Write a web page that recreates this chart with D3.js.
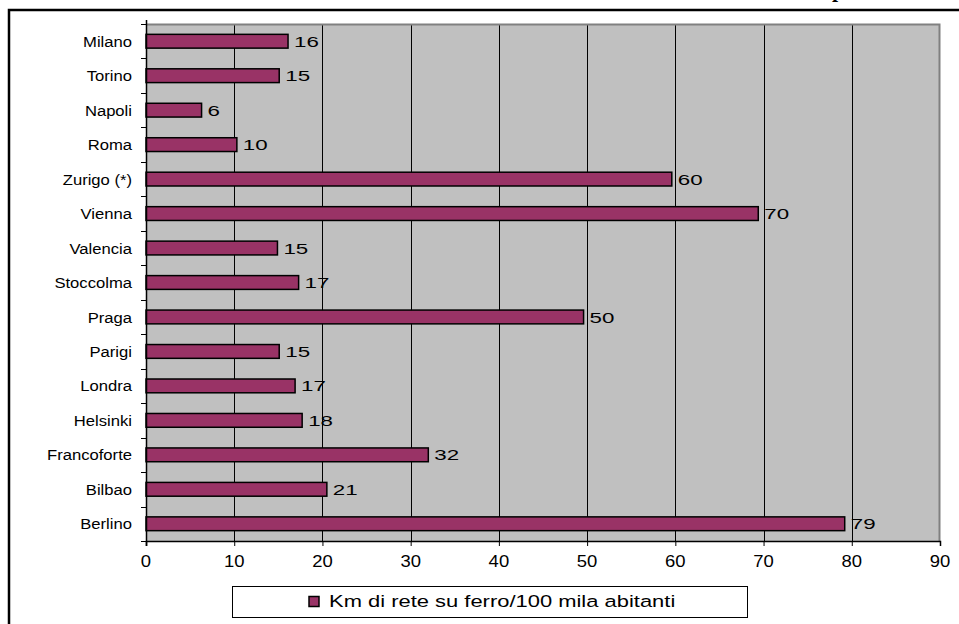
<!DOCTYPE html>
<html><head><meta charset="utf-8">
<script src="https://cdn.jsdelivr.net/npm/d3@7"></script>
<style>body{margin:0;background:#fff}svg{display:block}</style>
</head><body>
<script>
const cities = ["Milano","Torino","Napoli","Roma","Zurigo (*)","Vienna","Valencia","Stoccolma","Praga","Parigi","Londra","Helsinki","Francoforte","Bilbao","Berlino"];
const values = [16.1,15.1,6.3,10.3,59.6,69.4,14.9,17.3,49.6,15.1,16.9,17.7,32.0,20.5,79.2];
const valueLabels = ["16","15","6","10","60","70","15","17","50","15","17","18","32","21","79"];
const xTicks = [0,10,20,30,40,50,60,70,80,90];
const legendLabel = "Km di rete su ferro/100 mila abitanti";

const W=959,H=624;
const svg=d3.select("body").append("svg").attr("width",W).attr("height",H);
const font="'Liberation Sans', Arial, sans-serif";

// outer frame
svg.append("path").attr("d","M9,700 V10 H980").attr("fill","none").attr("stroke","#000").attr("stroke-width",2.5);
// cut-off heading glyph (only its descender shows above the frame)
svg.append("text").attr("x",832).attr("y",-3).attr("font-family","'Liberation Serif', serif").attr("font-weight","bold").attr("font-size",22).text("p");

const L=146,R=940,T=24,B=541;
const x=d3.scaleLinear().domain([0,90]).range([L,R]);
const y=d3.scaleBand().domain(cities).range([T,B]).paddingInner(0.6).paddingOuter(0.3);
const yb=d3.scaleBand().domain(cities).range([T,B]);

// horizontally stretched text helper
function stext(sel, px, py, sx, size, anchor){
  sel.attr("transform",(d,i)=>`translate(${px(d,i)},${py(d,i)}) scale(${sx},1)`)
     .attr("x",0).attr("y",0).attr("dy","0.36em")
     .attr("font-family",font).attr("font-size",size).attr("fill","#000")
     .attr("text-anchor",anchor||"start");
  return sel;
}

svg.append("rect").attr("x",L).attr("y",T).attr("width",R-L).attr("height",B-T).attr("fill","#c0c0c0");
// gridlines
svg.append("g").selectAll("line").data(xTicks.filter(d=>d>0&&d<90)).join("line")
  .attr("x1",d=>Math.round(x(d))+0.5).attr("x2",d=>Math.round(x(d))+0.5).attr("y1",T).attr("y2",B)
  .attr("stroke","#000").attr("stroke-width",1);
// plot border top/right gray
svg.append("path").attr("d",`M${L},${T+0.5} H${R-0.5} V${B}`).attr("fill","none").attr("stroke","#808080").attr("stroke-width",2);

// bars
svg.append("g").selectAll("rect").data(cities).join("rect")
  .attr("x",x(0)).attr("y",d=>y(d)).attr("width",(d,i)=>x(values[i])-x(0)).attr("height",y.bandwidth())
  .attr("fill","#993366").attr("stroke","#000").attr("stroke-width",1.5);
// value labels
stext(svg.append("g").selectAll("text").data(cities).join("text"),
  (d,i)=>x(values[i])+6, d=>y(d)+y.bandwidth()/2, 1.45, 15.4, "start")
  .text((d,i)=>valueLabels[i]);

// y axis
const yAxisG=svg.append("g");
yAxisG.append("line").attr("x1",L+0.5).attr("x2",L+0.5).attr("y1",T-4).attr("y2",B+5).attr("stroke","#000").attr("stroke-width",1.5);
const bounds=cities.map(c=>yb(c)).concat([B]);
yAxisG.selectAll("line.t").data(bounds).join("line").attr("class","t")
  .attr("x1",L-5).attr("x2",L).attr("y1",d=>Math.round(d)+0.5).attr("y2",d=>Math.round(d)+0.5).attr("stroke","#000");
stext(yAxisG.selectAll("text").data(cities).join("text"),
  d=>L-14, d=>yb(d)+yb.bandwidth()/2, 1.08, 15.4, "end").text(d=>d);

// x axis
const xAxis=d3.axisBottom(x).tickValues(xTicks).tickSize(5).tickFormat(()=>"");
const xg=svg.append("g").attr("transform",`translate(0,${B})`).call(xAxis);
xg.select(".domain").attr("stroke","#000").attr("stroke-width",1.5);
xg.selectAll(".tick line").attr("stroke","#000");
stext(svg.append("g").selectAll("text").data(xTicks).join("text"),
  d=>x(d), d=>561, 1.12, 16.5, "middle").text(d=>d3.format("d")(d));

// legend
const lg=svg.append("g");
lg.append("rect").attr("x",232.5).attr("y",586.5).attr("width",515).attr("height",31).attr("fill","#fff").attr("stroke","#000").attr("stroke-width",1);
lg.append("rect").attr("x",309).attr("y",596.5).attr("width",10).attr("height",10).attr("fill","#993366").attr("stroke","#000").attr("stroke-width",1.5);
stext(lg.selectAll("text").data([legendLabel]).join("text"),
  ()=>329, ()=>601, 1.33, 16.5, "start").text(d=>d);
</script>
</body></html>
